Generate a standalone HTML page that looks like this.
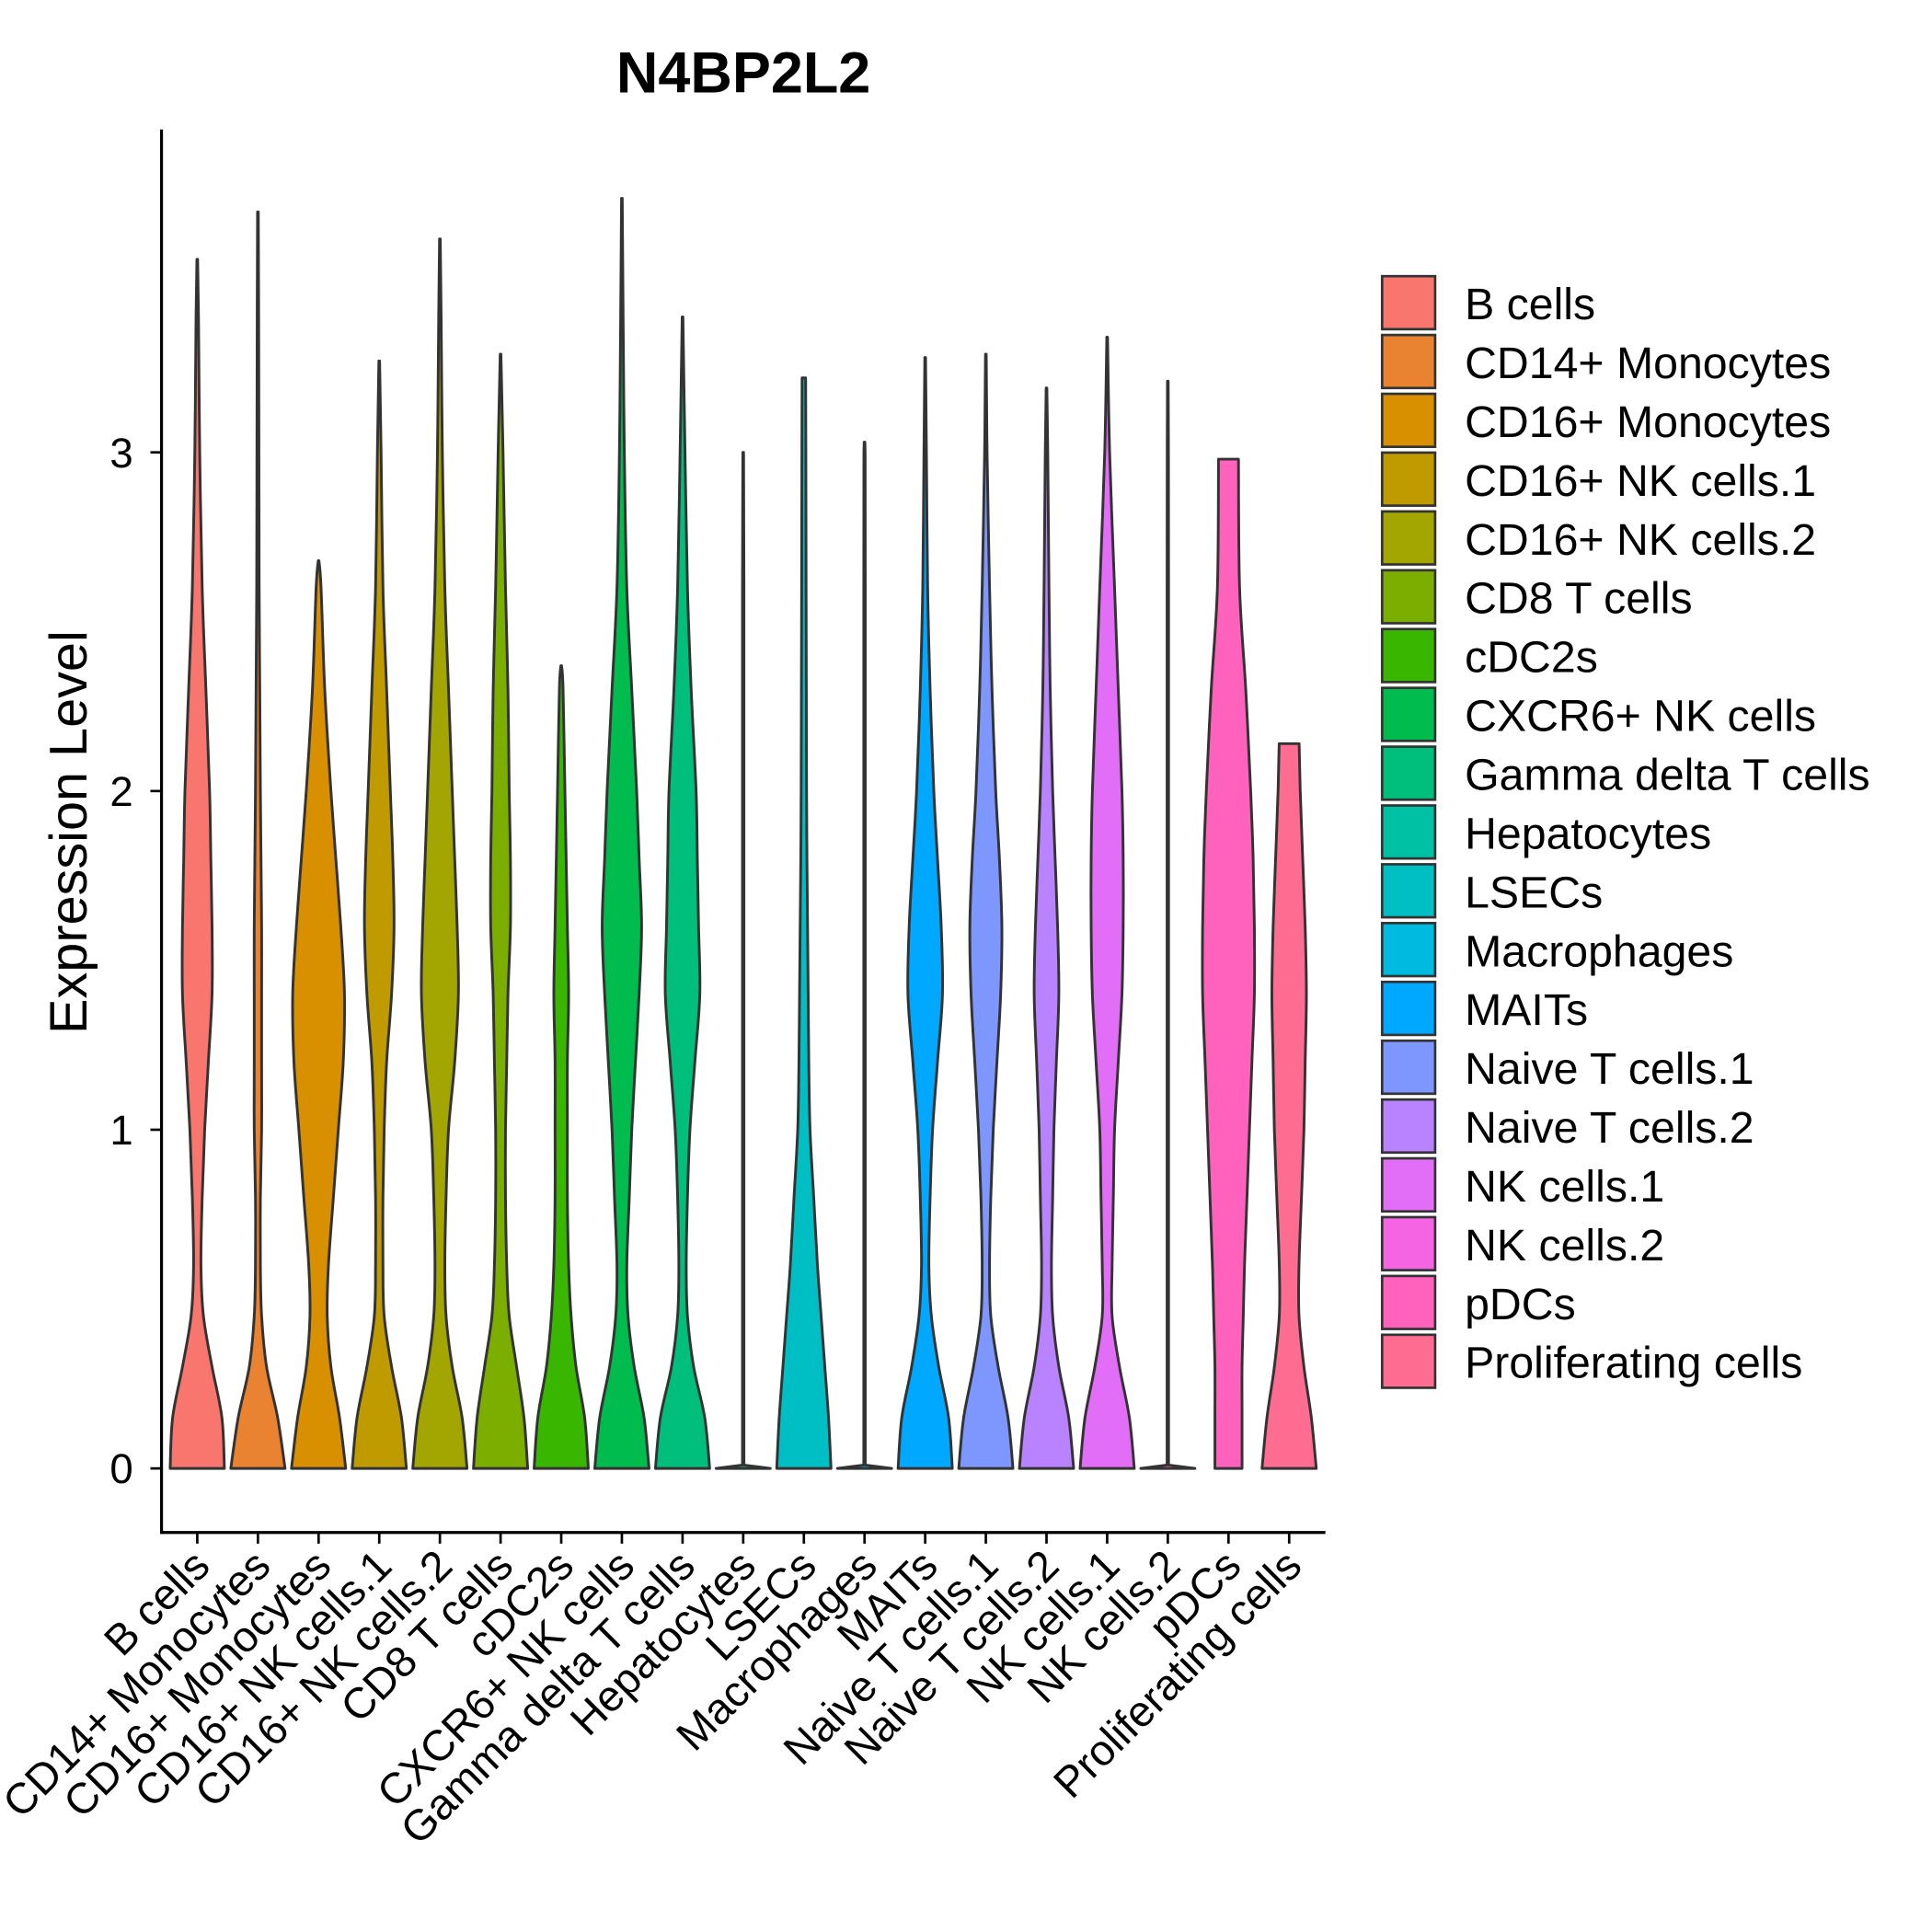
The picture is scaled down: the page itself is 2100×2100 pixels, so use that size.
<!DOCTYPE html>
<html><head><meta charset="utf-8"><style>
html,body{margin:0;padding:0;background:#fff;}
svg{display:block;font-family:"Liberation Sans",Arial,sans-serif;}
</style></head><body>
<svg id="chart" width="2100" height="2100" viewBox="0 0 1567 1567" xmlns="http://www.w3.org/2000/svg">
<text x="603" y="75" text-anchor="middle" font-size="47" font-weight="bold">N4BP2L2</text>
<text transform="translate(70,675) rotate(-90)" text-anchor="middle" font-size="43">Expression Level</text>
<g id="plot"></g>
<g id="legend"></g>
</svg>
<script>
const categories=["B cells","CD14+ Monocytes","CD16+ Monocytes","CD16+ NK cells.1","CD16+ NK cells.2","CD8 T cells","cDC2s","CXCR6+ NK cells","Gamma delta T cells","Hepatocytes","LSECs","Macrophages","MAITs","Naive T cells.1","Naive T cells.2","NK cells.1","NK cells.2","pDCs","Proliferating cells"];
const colors=["#F8766D","#EA8331","#D89000","#C09B00","#A3A500","#7CAE00","#39B600","#00BB4E","#00BF7D","#00C1A3","#00BFC4","#00BAE0","#00A9FF","#7D97FF","#B983FF","#E26EF7","#F564E3","#FF62BC","#FF6C91"];
const maxVals=[3.57,3.71,2.68,3.27,3.63,3.29,2.37,3.75,3.4,3.0,3.22,3.03,3.28,3.29,3.19,3.34,3.21,2.98,2.14];
const levels=[0,0.15,0.3,0.45,0.6,0.8,1.0,1.2,1.4,1.6,1.8,2.0,2.3,2.6,3.0,3.4];
const widths=[
[22,20,12,5,3,4,6,9,12,12,11,10,7,4,2,1],
[22,16,7,3,2,2,3,3,3,3,2.5,2,1.5,1,0.8,0.6],
[22,17,10,7,8,12,16,20,21,18,14,10,5,2],
[22,18,10,4,3,3,4,6,10,12,11,9,6,3,1.5],
[22,18,10,5,4,5,7,12,15,14,12,10,7,4,2,1],
[22,19,13,7,5,4,4,5,6,8,8,7,6,4,2],
[22,19,12,8,6,5,5,5,6,5,4,3,1.5],
[22,18,10,5,4,6,8,11,14,16,14,12,8,4,2,1],
[22,18,9,4,3,4,6,10,14,13,12,11,7,4,2,1],
[22,0.6,0.6,0.6,0.6,0.6,0.6,0.6,0.6,0.6,0.6,0.6,0.6,0.6,0.5],
[22,20,17,14,11,8,5,4,3.5,3,2.5,2.2,2,1.8,1.6,1.5],
[22,0.6,0.6,0.6,0.6,0.6,0.6,0.6,0.6,0.6,0.6,0.6,0.6,0.6,0.5],
[22,19,11,5,3,4,6,10,14,13,10,7,4,2,1],
[22,18,10,4,3,4,6,9,12,13,11,8,5,3,1],
[22,18,10,5,4,5,6,8,10,9,7,5,3,2,1],
[22,18,10,4,4,5,6,9,12,13,13,12,9,6,2],
[22,0.6,0.6,0.6,0.6,0.6,0.6,0.6,0.6,0.6,0.6,0.6,0.6,0.6,0.5],
[11,11,11,12,13,15,17,19,21,21,20,18,14,9,3],
[22,18,12,8,8,10,12,13,14,13,11,9]
];
const yTicks=[0,1,2,3];
const NS="http://www.w3.org/2000/svg";
const X0=160,DX=49.2,Y0=1191,YS=274.7;
const xPos=i=>X0+i*DX, yPos=v=>Y0-v*YS;
const plot=document.getElementById('plot');
function mk(tag,attrs,parent){const e=document.createElementNS(NS,tag);for(const k in attrs)e.setAttribute(k,attrs[k]);parent.appendChild(e);return e;}
function smooth(pts){let d="M"+pts[0][0]+","+pts[0][1];for(let i=0;i<pts.length-1;i++){const p0=pts[Math.max(i-1,0)],p1=pts[i],p2=pts[i+1],p3=pts[Math.min(i+2,pts.length-1)];const c1=[p1[0]+(p2[0]-p0[0])/6,p1[1]+(p2[1]-p0[1])/6],c2=[p2[0]-(p3[0]-p1[0])/6,p2[1]-(p3[1]-p1[1])/6];d+=" C"+c1[0]+","+c1[1]+" "+c2[0]+","+c2[1]+" "+p2[0]+","+p2[1];}return d;}
function linear(pts){return pts.map((p,k)=>(k?"L":"M")+p[0]+","+p[1]).join(" ");}
categories.forEach((c,i)=>{
  const cx=xPos(i),mx=maxVals[i],w=widths[i];
  const spike=w[1]<1;
  const prof=[];
  for(let k=0;k<w.length&&levels[k]<mx;k++)prof.push([levels[k],w[k]]);
  if(spike)prof.splice(1,0,[0.01,w[1]]);
  const flatTop=(i===10||i===17||i===18);
  prof.push([mx,flatTop?prof[prof.length-1][1]*0.9:0.3]);
  const right=prof.map(p=>[cx+p[1],yPos(p[0])]);
  const left=prof.slice().reverse().map(p=>[cx-p[1],yPos(p[0])]);
  const f=spike?linear:smooth;
  let d=f(right);
  d+=" L"+left[0][0]+","+left[0][1];
  d+=" "+f(left).replace(/^M[^ CL]+/,"");
  d+=" Z";
  const p=mk('path',{d:d,fill:colors[i],stroke:'#333',"stroke-width":2.2,"stroke-linejoin":"round"},plot);
  
  
  const t=mk('line',{x1:cx,x2:cx,y1:1243,y2:1252,stroke:'#000',"stroke-width":2},plot);
  
  
  const lb=mk('text',{transform:`translate(${cx+12},${1272}) rotate(-45)`,"text-anchor":"end","font-size":35},plot);
  lb.textContent=c;
  
  
  const lg=document.getElementById('legend');
  const ky=224+i*47.7;
  const r=mk('rect',{x:1121,y:ky,width:43,height:43,fill:colors[i],stroke:'#333',"stroke-width":2},lg);
  
  
  const lt=mk('text',{x:1188,y:ky+35,"font-size":36},lg);
  lt.textContent=c;
  
  
});
yTicks.forEach(v=>{
  const t=mk('line',{x1:122,x2:131,y1:yPos(v),y2:yPos(v),stroke:'#000',"stroke-width":2},plot);
  
  
  const l=mk('text',{x:108,y:yPos(v)+12,"text-anchor":"end","font-size":34},plot);
  l.textContent=v;
  
  
});
const ya=mk('line',{x1:131,x2:131,y1:105,y2:1244,stroke:'#000',"stroke-width":2.4},plot);


const xa=mk('line',{x1:130,x2:1075,y1:1243,y2:1243,stroke:'#000',"stroke-width":2.4},plot);


</script>
</body></html>
